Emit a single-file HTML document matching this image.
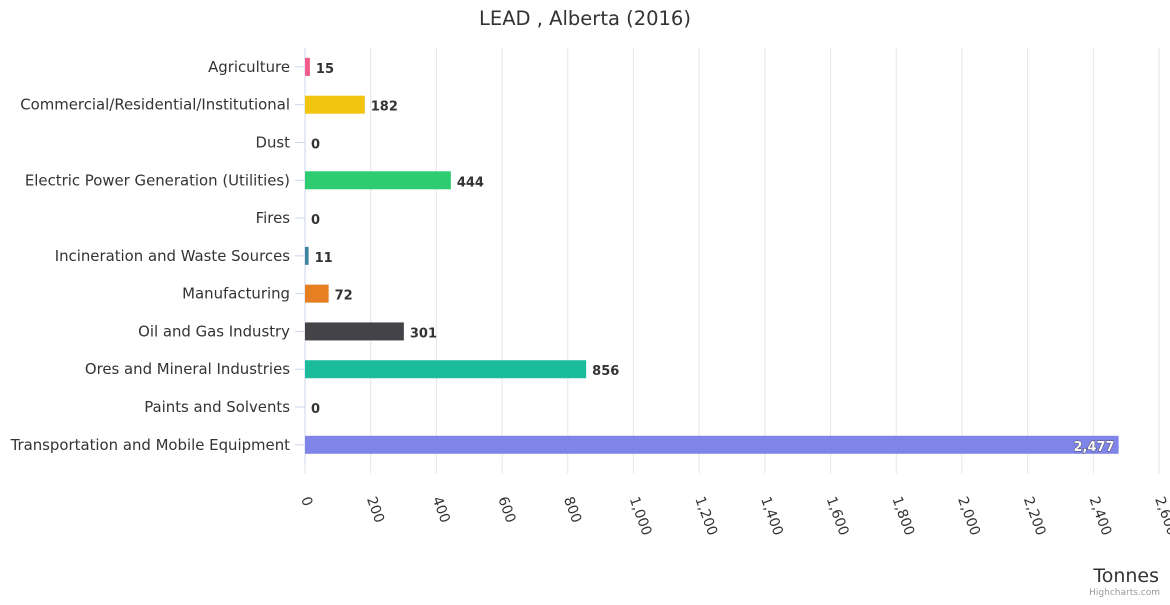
<!DOCTYPE html>
<html><head><meta charset="utf-8"><style>
body{margin:0;background:#fff;}
svg text{font-family:"DejaVu Sans","Liberation Sans",sans-serif;}
</style></head><body>
<svg id="c" width="1170" height="600" xmlns="http://www.w3.org/2000/svg">
<rect width="1170" height="600" fill="#fff"/>
<text x="585" y="25" text-anchor="middle" font-size="19.5" fill="#333">LEAD , Alberta (2016)</text>
<g id="grid"></g><g id="bars"></g><g id="labels"></g>
<text x="1159" y="582" text-anchor="end" font-size="19" fill="#333">Tonnes</text>
<text x="1160" y="595" text-anchor="end" font-size="9" fill="#999">Highcharts.com</text>
</svg>
<script>
const categories=["Agriculture","Commercial/Residential/Institutional","Dust","Electric Power Generation (Utilities)","Fires","Incineration and Waste Sources","Manufacturing","Oil and Gas Industry","Ores and Mineral Industries","Paints and Solvents","Transportation and Mobile Equipment"];
const values=[15,182,0,444,0,11,72,301,856,0,2477];
const colors=["#f45b8c","#f1c40f","#2c3e50","#2ecc71","#d35400","#3d85a0","#e67e22","#434348","#1abc9c","#8e44ad","#7f84e8"];
const ticks=[0,200,400,600,800,1000,1200,1400,1600,1800,2000,2200,2400,2600];
const NS="http://www.w3.org/2000/svg";
const x0=305,x1=1159,yTop=48,yBot=463.7,xMax=2600;
const xs=v=>x0+v/xMax*(x1-x0);
const step=(yBot-yTop)/categories.length;
const yc=i=>yTop+step*(i+0.5);
function mk(t,a,p){const e=document.createElementNS(NS,t);for(const k in a)e.setAttribute(k,a[k]);p.appendChild(e);return e;}
const g=document.getElementById('grid'),b=document.getElementById('bars'),l=document.getElementById('labels');
ticks.forEach(t=>{
 const x=xs(t);
 if(t>0){const ln=mk('line',{x1:x,x2:x,y1:yTop,y2:yBot,stroke:'#e6e6e6'},g);
 
 }
 const tk=mk('line',{x1:x,x2:x,y1:yBot,y2:yBot+10,stroke:'#e6e6e6'},g);
 
 
 const tx=mk('text',{x:x-4,y:yBot+35,'font-size':14,fill:'#333',transform:`rotate(70 ${x-4} ${yBot+35})`},g);
 tx.textContent=t.toLocaleString('en-US');
 
 
});
const ax=mk('line',{x1:x0,x2:x0,y1:yTop,y2:yBot,stroke:'#ccd6eb'},g);


categories.forEach((c,i)=>{
 const y=yc(i);
 const tk=mk('line',{x1:x0-10,x2:x0,y1:y,y2:y,stroke:'#ccd6eb'},g);
 
 
 const t=mk('text',{x:290,y:y+5,'text-anchor':'end','font-size':14.9,fill:'#333'},l);
 t.textContent=c;
 
 
 const w=xs(values[i])-x0;
 const r=mk('rect',{x:x0,y:y-9,width:Math.max(w,0),height:18,fill:colors[i]},b);
 
 
 const inside=w>700;
 const lab=values[i].toLocaleString('en-US');
 const d=mk('text',{x:inside?x0+w-4:x0+w+6,y:y+6,'text-anchor':inside?'end':'start','font-size':13,'font-weight':'bold',fill:inside?'#fff':'#333',stroke:inside?'#333':'none','stroke-width':inside?0.8:0,'paint-order':'stroke'},l);
 d.textContent=lab;
 
 
});
</script>
</body></html>
